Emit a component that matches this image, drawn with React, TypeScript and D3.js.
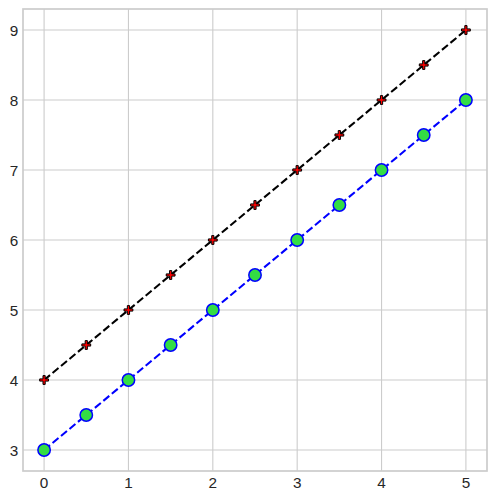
import React from "react";
import * as d3 from "d3";

const xValues = [0, 0.5, 1, 1.5, 2, 2.5, 3, 3.5, 4, 4.5, 5];
const lowerSeries = [3, 3.5, 4, 4.5, 5, 5.5, 6, 6.5, 7, 7.5, 8];
const upperSeries = [4, 4.5, 5, 5.5, 6, 6.5, 7, 7.5, 8, 8.5, 9];
const xTicks = [0, 1, 2, 3, 4, 5];
const yTicks = [3, 4, 5, 6, 7, 8, 9];

const W = 497;
const H = 500;
const left = 23;
const right = 487;
const top = 9;
const bottom = 471;

export default function App() {
  const x = d3.scaleLinear().domain([-0.25, 5.25]).range([left, right]);
  const y = d3.scaleLinear().domain([2.7, 9.3]).range([bottom, top]);
  const line = d3
    .line<number>()
    .x((_, i) => x(xValues[i]))
    .y((d) => y(d));
  const font = "'Liberation Sans', Arial, sans-serif";
  const plus = (cx: number, cy: number, key: string) => {
    const s = 4.4;
    const t = 1.1;
    const d = `M${cx - t},${cy - s}H${cx + t}V${cy - t}H${cx + s}V${cy + t}H${cx + t}V${cy + s}H${cx - t}V${cy + t}H${cx - s}V${cy - t}H${cx - t}Z`;
    return <path key={key} d={d} fill="#ff0000" stroke="#000" strokeWidth={1} />;
  };
  return (
    <svg width={W} height={H} style={{ position: "absolute", left: 0, top: 0, background: "#fff" }}>
      <rect x={0} y={0} width={W} height={H} fill="#fff" />
      {xTicks.map((t) => (
        <line key={"gx" + t} x1={x(t)} x2={x(t)} y1={top} y2={bottom} stroke="#cccccc" strokeWidth={1.1} />
      ))}
      {yTicks.map((t) => (
        <line key={"gy" + t} x1={left} x2={right} y1={y(t)} y2={y(t)} stroke="#cccccc" strokeWidth={1.1} />
      ))}
      <rect x={left} y={top} width={right - left} height={bottom - top} fill="none" stroke="#cccccc" strokeWidth={1.7} />
      {xTicks.map((t) => (
        <text key={"tx" + t} x={x(t)} y={bottom + 16.5} textAnchor="middle" fontFamily={font} fontSize={15.3} fill="#262626">
          {t}
        </text>
      ))}
      {yTicks.map((t) => (
        <text key={"ty" + t} x={left - 4.8} y={y(t) + 5.5} textAnchor="end" fontFamily={font} fontSize={15.3} fill="#262626">
          {t}
        </text>
      ))}
      <path d={line(lowerSeries) || ""} fill="none" stroke="#0000ff" strokeWidth={2.08} strokeDasharray="7.7,3.3" />
      <path d={line(upperSeries) || ""} fill="none" stroke="#000000" strokeWidth={2.08} strokeDasharray="7.7,3.3" />
      {lowerSeries.map((v, i) => (
        <circle key={"c" + i} cx={x(xValues[i])} cy={y(v)} r={6.2} fill="#33dd44" stroke="#0000ff" strokeWidth={1.5} />
      ))}
      {upperSeries.map((v, i) => plus(x(xValues[i]), y(v), "p" + i))}
    </svg>
  );
}
